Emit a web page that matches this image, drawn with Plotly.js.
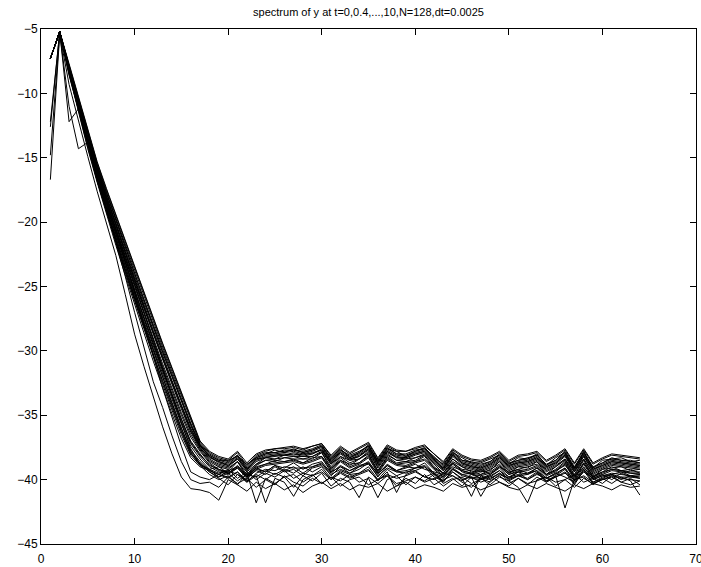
<!DOCTYPE html>
<html>
<head>
<meta charset="utf-8">
<script src="https://cdn.plot.ly/plotly-3.0.1.min.js"></script>
<style>html,body{margin:0;padding:0;background:#fff;}#chart{width:701px;height:567px;}</style>
</head>
<body>
<div id="chart"></div>
<script>
const titleText = "spectrum of y at t=0,0.4,...,10,N=128,dt=0.0025";
const waveNumber = [1,2,3,4,5,6,7,8,9,10,11,12,13,14,15,16,17,18,19,20,21,22,23,24,25,26,27,28,29,30,31,32,33,34,35,36,37,38,39,40,41,42,43,44,45,46,47,48,49,50,51,52,53,54,55,56,57,58,59,60,61,62,63,64];

const spec00 = [-16.7,-5.4,-9.3,-12.2,-14.9,-17.6,-20.2,-22.6,-25.6,-28.7,-31.2,-33.6,-35.9,-38.0,-39.8,-40.7,-40.8,
 -41.0,-41.6,-40.0,-40.4,-40.9,-40.2,-40.7,-40.3,-40.8,-40.4,-41.0,-40.5,-40.2,-40.7,-40.3,-40.8,-40.4,-40.6,-40.3,-40.9,-40.5,-40.2,-40.7,-40.4,-40.6,-40.9,-40.3,-40.6,-40.4,-40.8,-40.5,-40.2,-40.6,-40.8,-40.4,-40.7,-40.3,-40.6,-40.9,-40.4,-40.7,-40.3,-40.5,-40.8,-40.4,-40.6,-40.5];
const spec01 = [-14.8,-5.3,-11.0,-14.3,-13.8,-16.4,-19.0,-21.5,-24.2,-27.0,-29.8,-32.4,-34.4,-36.6,-38.6,-40.0,-40.3,
 -40.2,-40.6,-39.8,-40.3,-39.9,-40.6,-40.0,-40.4,-39.7,-40.2,-40.5,-39.9,-40.3,-39.8,-40.5,-40.0,-39.8,-40.4,-40.0,-39.7,-40.3,-40.1,-39.8,-40.2,-39.9,-40.5,-40.0,-39.8,-40.3,-40.0,-39.7,-40.2,-40.5,-39.9,-40.3,-40.1,-39.8,-40.2,-40.0,-40.6,-39.9,-40.3,-40.0,-39.8,-40.2,-40.4,-40.1];
const spec02 = [-12.6,-5.2,-12.2,-11.2,-13.6,-16.0,-18.4,-20.7,-23.0,-25.4,-27.9,-30.4,-32.9,-35.2,-37.4,-39.4,-39.8,
 -40.0,-39.6,-39.9,-39.4,-40.1,-39.6,-40.0,-39.5,-39.8,-39.6,-40.2,-39.7,-39.4,-40.0,-39.5,-39.9,-39.6,-39.3,-40.0,-39.6,-39.9,-39.7,-39.4,-39.8,-40.0,-39.5,-39.7,-40.1,-39.6,-39.9,-40.2,-39.6,-39.9,-39.7,-40.0,-39.5,-40.1,-39.8,-39.5,-40.0,-39.7,-40.2,-39.8,-39.6,-40.0,-39.7,-39.9];
const spec03 = [-12.2,-5.3,-8.6,-11.3,-13.9,-16.3,-18.5,-20.5,-22.6,-24.8,-27.0,-29.2,-31.4,-33.5,-35.6,-37.6,-38.8,
 -39.2,-39.8,-39.3,-39.0,-39.7,-39.1,-39.4,-38.9,-39.3,-39.0,-39.5,-39.0,-38.8,-39.4,-39.0,-39.3,-38.9,-38.7,-39.5,-38.9,-39.3,-39.1,-38.8,-39.2,-39.4,-39.6,-39.0,-39.3,-39.5,-39.2,-39.6,-39.0,-39.4,-39.2,-39.5,-39.1,-39.6,-39.3,-38.9,-39.7,-39.1,-39.8,-39.4,-39.2,-39.3,-39.5,-39.6];
const spec04 = [-7.3,-5.2,-8.4,-11.3,-14.2,-16.8,-19.2,-21.5,-23.8,-26.0,-28.2,-30.3,-32.3,-34.3,-36.2,-37.9,-38.9,
 -39.6,-40.0,-39.7,-40.4,-39.5,-41.8,-39.9,-40.3,-39.8,-40.6,-39.7,-40.1,-39.5,-40.5,-39.9,-40.2,-41.4,-39.8,-40.3,-39.7,-40.5,-39.9,-40.3,-39.6,-40.4,-40.0,-39.7,-40.2,-40.6,-39.9,-40.4,-39.8,-40.1,-40.6,-41.8,-40.0,-39.8,-40.5,-40.0,-39.6,-40.2,-39.9,-40.3,-39.7,-40.2,-39.9,-40.4];
const spec05 = [-7.3,-5.2,-8.2,-11.0,-13.9,-16.5,-18.9,-21.2,-23.5,-25.7,-27.9,-30.0,-32.0,-34.0,-36.0,-37.8,-38.8,
 -39.4,-39.9,-40.4,-39.6,-40.2,-39.7,-41.8,-39.9,-40.2,-41.3,-40.0,-39.6,-40.3,-39.8,-40.1,-39.6,-40.2,-39.9,-41.4,-40.0,-39.7,-40.4,-39.8,-40.1,-39.6,-40.3,-39.9,-40.5,-39.8,-41.3,-40.1,-39.7,-40.3,-39.9,-40.4,-39.8,-40.2,-39.7,-42.2,-40.0,-39.8,-40.4,-39.9,-40.3,-39.8,-40.1,-41.2];
const spec06 = [-7.3,-5.2,-8.5,-11.4,-14.3,-16.9,-19.4,-21.8,-24.1,-26.4,-28.6,-30.8,-32.9,-34.9,-36.8,-38.3,-39.0,
 -39.3,-39.6,-39.2,-39.9,-39.4,-40.0,-39.5,-39.8,-39.3,-39.9,-39.5,-39.7,-39.2,-40.0,-39.4,-39.8,-39.5,-39.2,-40.1,-39.4,-41.0,-39.6,-39.3,-39.8,-39.5,-40.1,-39.4,-39.9,-41.3,-39.7,-40.0,-39.5,-39.9,-39.4,-40.0,-39.6,-39.9,-39.5,-39.8,-40.2,-39.4,-39.9,-39.6,-40.0,-39.5,-39.8,-39.7];
const spec07 = [-7.3,-5.2,-8.3,-11.2,-14.1,-16.8,-19.2,-21.6,-23.9,-26.1,-28.3,-30.5,-32.6,-34.6,-36.5,-38.1,-38.9,
 -39.2,-39.0,-39.5,-39.1,-39.8,-39.3,-39.6,-39.0,-39.4,-39.2,-39.7,-39.1,-38.9,-39.6,-39.2,-39.5,-39.0,-38.8,-39.7,-39.1,-39.4,-39.5,-39.1,-39.0,-39.6,-39.9,-39.2,-39.6,-39.8,-39.9,-39.7,-39.3,-39.8,-39.6,-39.5,-39.3,-39.9,-39.6,-39.1,-40.1,-39.2,-40.0,-39.7,-39.5,-39.6,-39.7,-39.8];
const spec08 = [-7.3,-5.2,-7.8,-10.4,-13.0,-15.4,-17.5,-19.5,-21.5,-23.6,-25.6,-27.6,-29.5,-31.4,-33.3,-35.2,-37.1,
 -37.9,-38.3,-38.5,-37.9,-38.9,-38.1,-37.8,-37.6,-37.6,-37.5,-37.7,-37.4,-37.2,-38.2,-37.5,-38.0,-37.6,-37.2,-38.4,-37.4,-37.8,-37.8,-37.6,-37.4,-38.0,-38.7,-37.7,-38.2,-38.5,-38.6,-38.3,-37.9,-38.6,-38.2,-38.1,-37.9,-38.6,-38.2,-37.7,-38.8,-37.7,-38.8,-38.4,-38.1,-38.2,-38.3,-38.4];
const spec09 = [-7.3,-5.2,-7.9,-10.5,-13.2,-15.6,-17.7,-19.7,-21.7,-23.8,-25.8,-27.8,-29.7,-31.6,-33.5,-35.4,-37.2,
 -38.0,-38.4,-38.6,-38.1,-39.0,-38.2,-37.9,-37.9,-37.7,-37.7,-37.8,-37.6,-37.3,-38.4,-37.7,-38.1,-37.8,-37.4,-38.5,-37.5,-38.0,-38.0,-37.7,-37.6,-38.2,-38.9,-37.8,-38.5,-38.6,-38.8,-38.6,-38.0,-38.7,-38.5,-38.3,-38.1,-38.8,-38.5,-37.8,-39.0,-37.9,-39.0,-38.7,-38.3,-38.5,-38.5,-38.7];
const spec10 = [-7.3,-5.2,-8.0,-10.6,-13.3,-15.7,-17.8,-19.9,-21.9,-24.0,-26.0,-28.0,-29.9,-31.8,-33.7,-35.6,-37.3,
 -38.1,-38.5,-38.5,-38.2,-38.8,-38.3,-38.0,-37.7,-37.9,-37.6,-37.9,-37.7,-37.4,-38.3,-37.6,-38.3,-37.9,-37.3,-38.6,-37.6,-37.8,-38.2,-37.8,-37.5,-38.3,-38.8,-37.9,-38.3,-38.7,-38.7,-38.4,-38.1,-38.8,-38.3,-38.4,-38.0,-38.9,-38.3,-37.9,-39.1,-37.8,-39.1,-38.5,-38.4,-38.3,-38.6,-38.5];
const spec11 = [-7.3,-5.2,-8.1,-10.8,-13.5,-15.9,-18.1,-20.2,-22.3,-24.4,-26.4,-28.4,-30.4,-32.3,-34.2,-36.0,-37.4,
 -38.1,-38.5,-38.7,-38.1,-39.1,-38.3,-38.0,-37.9,-37.8,-37.7,-37.9,-37.7,-37.4,-38.5,-37.7,-38.2,-37.9,-37.4,-38.6,-37.6,-38.0,-38.1,-37.8,-37.6,-38.3,-39.0,-37.9,-38.5,-38.7,-38.9,-38.6,-38.1,-38.8,-38.5,-38.4,-38.1,-38.9,-38.5,-37.9,-39.1,-37.9,-39.1,-38.7,-38.4,-38.5,-38.6,-38.7];
const spec12 = [-7.3,-5.2,-7.9,-10.6,-13.3,-15.8,-18.0,-20.1,-22.1,-24.2,-26.2,-28.2,-30.1,-32.0,-33.9,-35.8,-37.4,
 -38.2,-38.6,-38.8,-38.2,-39.2,-38.4,-38.1,-38.0,-37.9,-37.8,-38.0,-37.8,-37.5,-38.6,-37.8,-38.3,-38.0,-37.5,-38.7,-37.7,-38.1,-38.2,-37.9,-37.7,-38.4,-39.1,-38.0,-38.6,-38.8,-39.0,-38.7,-38.2,-38.9,-38.6,-38.5,-38.2,-39.0,-38.6,-38.0,-39.2,-38.0,-39.2,-38.8,-38.5,-38.6,-38.7,-38.8];
const spec13 = [-7.3,-5.2,-8.0,-10.7,-13.4,-15.8,-18.0,-20.2,-22.4,-24.5,-26.6,-28.6,-30.5,-32.4,-34.3,-36.1,-37.5,
 -38.3,-38.6,-38.9,-38.4,-39.3,-38.4,-38.3,-38.1,-38.0,-38.1,-38.0,-38.0,-37.6,-38.7,-37.9,-38.4,-38.2,-37.6,-38.8,-37.8,-38.3,-38.3,-38.0,-37.8,-38.5,-39.2,-38.1,-38.7,-39.0,-39.1,-38.8,-38.3,-39.0,-38.7,-38.6,-38.3,-39.1,-38.7,-38.1,-39.3,-38.2,-39.3,-38.9,-38.6,-38.7,-38.8,-38.9];
const spec14 = [-7.3,-5.2,-8.2,-10.9,-13.6,-16.0,-18.2,-20.3,-22.4,-24.5,-26.6,-28.6,-30.6,-32.5,-34.4,-36.2,-37.5,
 -38.4,-38.8,-39.0,-38.4,-39.3,-38.6,-38.3,-38.2,-38.1,-38.0,-38.2,-38.0,-37.7,-38.8,-38.0,-38.5,-38.2,-37.7,-38.9,-37.9,-38.3,-38.4,-38.1,-37.9,-38.6,-39.3,-38.2,-38.8,-39.0,-39.2,-38.9,-38.4,-39.1,-38.8,-38.7,-38.4,-39.2,-38.8,-38.2,-39.4,-38.2,-39.4,-39.0,-38.7,-38.8,-38.9,-39.0];
const spec15 = [-7.3,-5.2,-8.0,-10.8,-13.5,-16.0,-18.3,-20.5,-22.6,-24.7,-26.7,-28.7,-30.7,-32.6,-34.5,-36.3,-37.6,
 -38.5,-38.9,-39.1,-38.6,-39.4,-38.8,-38.3,-38.4,-38.1,-38.2,-38.2,-38.2,-37.8,-38.8,-38.2,-38.5,-38.4,-37.8,-39.0,-38.0,-38.5,-38.4,-38.3,-38.0,-38.7,-39.3,-38.4,-38.9,-39.1,-39.3,-39.0,-38.5,-39.2,-38.9,-38.8,-38.5,-39.3,-38.9,-38.4,-39.4,-38.4,-39.5,-39.1,-38.8,-38.9,-39.0,-39.1];
const spec16 = [-7.3,-5.2,-8.1,-10.9,-13.6,-16.1,-18.4,-20.6,-22.8,-24.9,-27.0,-29.0,-31.0,-32.9,-34.8,-36.5,-37.7,
 -38.6,-39.0,-39.2,-38.6,-39.6,-38.8,-38.5,-38.4,-38.3,-38.2,-38.4,-38.2,-37.9,-39.0,-38.2,-38.7,-38.4,-37.9,-39.1,-38.1,-38.5,-38.6,-38.3,-38.1,-38.8,-39.5,-38.4,-39.0,-39.2,-39.4,-39.1,-38.6,-39.3,-39.0,-38.9,-38.6,-39.4,-39.0,-38.4,-39.6,-38.4,-39.6,-39.2,-38.9,-39.0,-39.1,-39.2];
const spec17 = [-7.3,-5.2,-8.3,-11.0,-13.7,-16.2,-18.5,-20.7,-22.9,-25.0,-27.1,-29.2,-31.2,-33.1,-35.0,-36.7,-37.8,
 -38.7,-39.2,-39.4,-38.6,-39.8,-38.9,-38.5,-38.6,-38.3,-38.4,-38.4,-38.4,-37.9,-39.2,-38.3,-38.9,-38.4,-38.0,-39.3,-38.2,-38.7,-38.6,-38.5,-38.1,-39.0,-39.5,-38.6,-39.0,-39.4,-39.4,-39.3,-38.6,-39.5,-39.0,-39.1,-38.6,-39.6,-39.0,-38.5,-39.7,-38.5,-39.8,-39.2,-39.1,-39.0,-39.3,-39.2];
const spec18 = [-7.3,-5.2,-8.1,-10.8,-13.6,-16.2,-18.6,-20.9,-23.1,-25.3,-27.4,-29.5,-31.5,-33.4,-35.3,-37.0,-38.0,
 -38.9,-39.2,-39.5,-38.9,-39.6,-39.0,-38.8,-38.5,-38.6,-38.4,-38.7,-38.3,-38.2,-39.1,-38.5,-38.8,-38.7,-38.1,-39.3,-38.3,-38.8,-38.7,-38.6,-38.2,-39.1,-39.5,-38.7,-39.2,-39.3,-39.6,-39.2,-38.8,-39.5,-39.2,-39.0,-38.8,-39.6,-39.2,-38.6,-39.8,-38.7,-39.7,-39.4,-39.0,-39.3,-39.2,-39.5];
const spec19 = [-7.3,-5.2,-8.2,-11.0,-13.8,-16.4,-18.8,-21.0,-23.2,-25.4,-27.5,-29.6,-31.6,-33.6,-35.5,-37.2,-38.2,
 -39.0,-39.4,-39.6,-39.1,-39.9,-39.2,-38.9,-38.8,-38.7,-38.6,-38.8,-38.6,-38.3,-39.4,-38.6,-39.1,-38.8,-38.3,-39.5,-38.5,-38.9,-39.0,-38.7,-38.5,-39.2,-39.8,-38.8,-39.4,-39.6,-39.7,-39.5,-39.0,-39.6,-39.4,-39.3,-39.0,-39.7,-39.4,-38.8,-40.0,-38.8,-39.9,-39.6,-39.3,-39.4,-39.5,-39.5];
const spec20 = [-7.3,-5.2,-8.4,-11.2,-14.0,-16.6,-19.0,-21.2,-23.4,-25.6,-27.7,-29.8,-31.8,-33.8,-35.7,-37.4,-38.4,
 -39.2,-39.5,-39.3,-39.6,-40.0,-39.2,-39.4,-38.9,-39.1,-38.7,-39.2,-38.8,-38.6,-39.5,-38.9,-39.3,-39.0,-38.6,-39.6,-38.8,-39.3,-39.0,-39.1,-38.7,-39.5,-39.8,-39.1,-39.6,-39.5,-39.9,-39.6,-39.1,-39.8,-39.4,-39.6,-39.1,-39.9,-39.5,-39.1,-40.1,-39.0,-40.0,-39.7,-39.6,-39.4,-39.7,-39.6];
const spec21 = [-7.3,-5.2,-8.3,-11.1,-13.9,-16.6,-19.1,-21.4,-23.6,-25.8,-27.9,-30.0,-32.1,-34.1,-36.0,-37.7,-38.6,
 -39.3,-39.6,-39.8,-39.4,-40.2,-39.5,-39.2,-39.3,-39.0,-39.1,-39.1,-39.0,-38.7,-39.7,-39.0,-39.5,-39.2,-38.7,-39.8,-38.9,-39.4,-39.3,-39.1,-38.9,-39.5,-40.2,-39.2,-39.7,-39.9,-40.0,-39.8,-39.3,-40.0,-39.7,-39.6,-39.3,-40.1,-39.7,-39.2,-40.3,-39.2,-40.2,-39.9,-39.6,-39.8,-39.8,-39.9];
const spec22 = [-7.3,-5.2,-8.0,-10.9,-13.8,-16.5,-19.0,-21.4,-23.7,-25.9,-28.1,-30.3,-32.4,-34.4,-36.3,-38.0,-38.7,
 -39.4,-39.8,-39.5,-40.1,-39.6,-39.8,-39.3,-39.6,-39.2,-39.5,-39.0,-39.4,-39.0,-39.9,-39.3,-39.6,-39.5,-39.0,-40.0,-39.2,-39.7,-39.4,-39.3,-39.0,-39.8,-40.1,-39.4,-40.0,-39.8,-40.2,-39.9,-39.5,-40.1,-39.7,-39.9,-39.4,-40.2,-39.8,-39.4,-40.4,-39.3,-40.3,-40.0,-39.7,-39.9,-40.0,-40.1];
const spec23 = [-7.3,-5.2,-7.7,-10.3,-12.9,-15.3,-17.4,-19.4,-21.4,-23.5,-25.5,-27.5,-29.4,-31.3,-33.2,-35.1,-37.0,
 -37.8,-38.2,-38.4,-37.8,-38.7,-38.0,-37.7,-37.6,-37.5,-37.4,-37.6,-37.4,-37.2,-38.1,-37.4,-37.9,-37.5,-37.1,-38.3,-37.3,-37.7,-37.8,-37.5,-37.3,-38.0,-38.6,-37.6,-38.1,-38.4,-38.5,-38.2,-37.8,-38.5,-38.1,-38.0,-37.8,-38.5,-38.1,-37.6,-38.7,-37.6,-38.7,-38.3,-38.0,-38.1,-38.2,-38.3];
const spec24 = [-7.3,-5.2,-7.9,-10.5,-13.1,-15.5,-17.7,-19.8,-21.9,-24.0,-26.1,-28.1,-30.1,-32.0,-33.9,-35.7,-37.3,
 -38.2,-38.7,-38.9,-38.3,-39.2,-38.5,-38.2,-38.1,-38.1,-37.9,-38.1,-37.9,-37.7,-38.6,-37.9,-38.4,-38.1,-37.6,-38.7,-37.8,-38.2,-38.3,-38.0,-37.8,-38.5,-39.1,-38.1,-38.7,-38.9,-39.1,-38.8,-38.3,-38.9,-38.7,-38.6,-38.3,-39.0,-38.7,-38.1,-39.2,-38.1,-39.2,-38.9,-38.6,-38.7,-38.8,-38.9];
const spec25 = [-7.3,-5.2,-8.2,-10.9,-13.7,-16.3,-18.7,-20.9,-23.1,-25.3,-27.4,-29.4,-31.4,-33.4,-35.3,-37.1,-38.1,
 -38.8,-39.3,-39.5,-39.0,-39.8,-39.1,-38.8,-38.7,-38.6,-38.5,-38.7,-38.5,-38.2,-39.3,-38.5,-39.0,-38.7,-38.2,-39.4,-38.4,-38.8,-38.9,-38.6,-38.4,-39.1,-39.7,-38.7,-39.3,-39.5,-39.6,-39.4,-38.9,-39.6,-39.3,-39.2,-38.9,-39.6,-39.3,-38.7,-39.9,-38.7,-39.8,-39.5,-39.2,-39.3,-39.4,-39.4];

const allSpectra = [spec00,spec01,spec02,spec03,spec04,spec05,spec06,spec07,spec08,spec09,spec10,spec11,spec12,
  spec13,spec14,spec15,spec16,spec17,spec18,spec19,spec20,spec21,spec22,spec23,spec24,spec25];

const xTicks = [0,10,20,30,40,50,60,70];
const yTicks = [-45,-40,-35,-30,-25,-20,-15,-10,-5];

const traces = allSpectra.map(function(s){
  return {x: waveNumber, y: s, type: 'scatter', mode: 'lines',
          line: {color: '#000000', width: 1}, hoverinfo: 'skip', showlegend: false};
});

const axisCommon = {
  showgrid: false, zeroline: false, showline: true, linecolor: '#000', linewidth: 1,
  mirror: 'ticks', ticks: 'inside', ticklen: 6, tickcolor: '#000', tickwidth: 1,
  ticklabeloverflow: 'allow',
  tickfont: {family: 'Liberation Sans, Arial, sans-serif', size: 12, color: '#000'}
};

const layout = {
  width: 701, height: 567,
  margin: {l: 41, r: 5, t: 29, b: 23},
  paper_bgcolor: '#fff', plot_bgcolor: '#fff',
  title: {text: titleText, x: 0.5, xref: 'paper', y: 0.985, yanchor: 'top',
          font: {family: 'Liberation Sans, Arial, sans-serif', size: 11, color: '#000'}},
  xaxis: Object.assign({}, axisCommon, {range: [0, 70], tickvals: xTicks, ticktext: xTicks.map(String), ticklabelstandoff: 4}),
  yaxis: Object.assign({}, axisCommon, {range: [-45, -5], tickvals: yTicks})
};

Plotly.newPlot('chart', traces, layout, {staticPlot: true, displayModeBar: false});
</script>
</body>
</html>
